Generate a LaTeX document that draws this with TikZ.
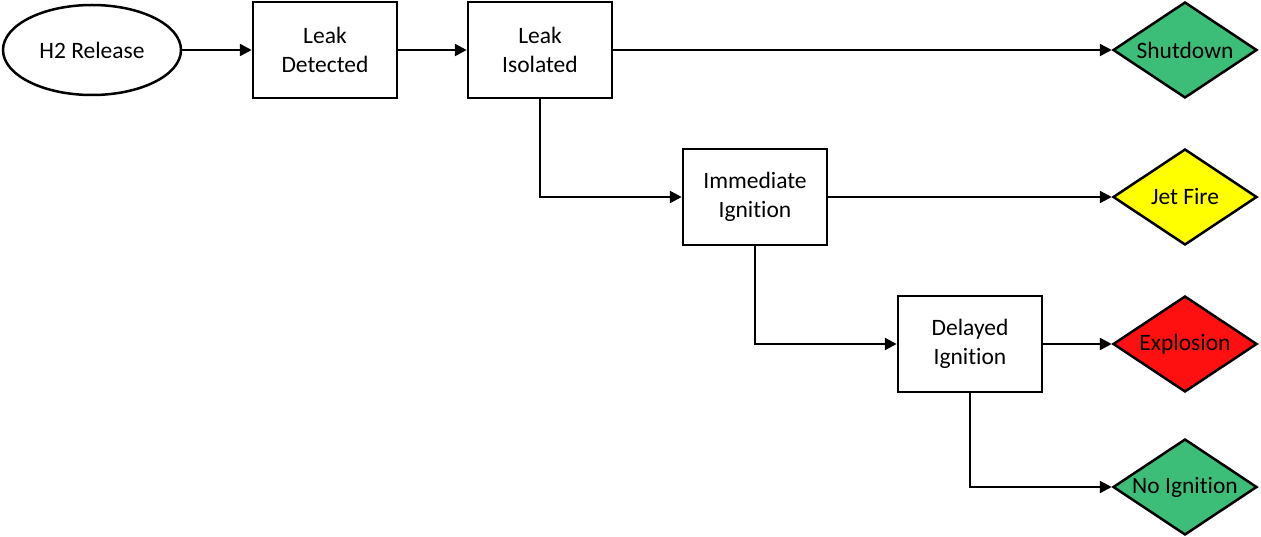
\documentclass[tikz,border=0pt]{standalone}
\usepackage{fontspec}
\setmainfont{Carlito}[Ligatures={NoCommon}]
\usetikzlibrary{shapes.geometric,arrows.meta}
\definecolor{okgreen}{RGB}{60,190,120}
\definecolor{jetyellow}{RGB}{255,255,0}
\definecolor{boomred}{RGB}{255,16,16}
\begin{document}
\begin{tikzpicture}[x=1pt,y=-1pt,
  every node/.style={font=\fontsize{23.5}{29}\selectfont, align=center},
  stepbox/.style={draw, line width=2.5pt, rectangle, minimum width=144pt, minimum height=96pt, inner sep=0pt, fill=white},
  startoval/.style={draw, line width=2.5pt, ellipse, minimum width=178pt, minimum height=90pt, inner sep=0pt},
  outcome/.style={draw, line width=2.5pt, diamond, minimum width=144pt, minimum height=96pt, inner sep=0pt},
  conn/.style={line width=2.5pt, -{Triangle[length=12pt,width=12pt]}}
]
\useasboundingbox (0,0) rectangle (1261,537);
\node[startoval] (rel) at (92,50) {H2 Release};
\node[stepbox] (det) at (325,50) {Leak\\Detected};
\node[stepbox] (iso) at (540,50) {Leak\\Isolated};
\node[stepbox] (imm) at (755,197) {Immediate\\Ignition};
\node[stepbox] (del) at (970,344) {Delayed\\Ignition};
\node[outcome, fill=okgreen, label=center:Shutdown] (shut) at (1185,50) {};
\node[outcome, fill=jetyellow, label=center:Jet Fire] (jet) at (1185,197) {};
\node[outcome, fill=boomred, label=center:Explosion] (exp) at (1185,344) {};
\node[outcome, fill=okgreen, label=center:No Ignition] (noi) at (1185,487) {};
\draw[conn] (rel) -- (det);
\draw[conn] (det) -- (iso);
\draw[conn] (iso) -- (shut);
\draw[conn] (iso.south) |- (imm.west);
\draw[conn] (imm) -- (jet);
\draw[conn] (imm.south) |- (del.west);
\draw[conn] (del) -- (exp);
\draw[conn] (del.south) |- (noi.west);
\end{tikzpicture}
\end{document}
